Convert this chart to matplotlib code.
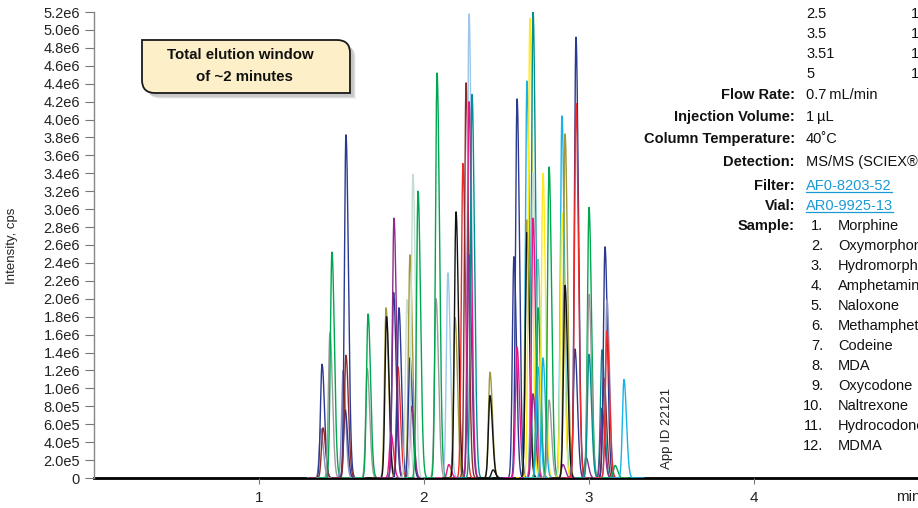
import numpy as np
import matplotlib
matplotlib.use('Agg')
import matplotlib.pyplot as plt
from matplotlib.patches import PathPatch
from matplotlib.path import Path
from matplotlib.lines import Line2D
from matplotlib.transforms import Affine2D
from matplotlib.ticker import FuncFormatter, MultipleLocator

plt.rcParams['font.family'] = ['Liberation Sans', 'DejaVu Sans']
COND = ['Liberation Sans Narrow', 'Liberation Sans', 'DejaVu Sans']

# Peak table: retention time (min), height (cps), trace colour
NAVY, GREEN, GRAY, PALE = '#2B3990', '#00A650', '#9B9B9B', '#C5DDD0'
BROWN, RED, PINK, PURPLE = '#8C2D2D', '#EE2A2A', '#E8168B', '#8E2C8E'
OLIVE, BLACK, LBLUE, CYAN = '#A09A3C', '#111111', '#9CC7EA', '#17B3E8'
YELLOW, TEAL, PTEAL, SLATE = '#FFEA1A', '#00918E', '#6FC7B8', '#8A8FC4'

peak_rt = [1.375, 1.382, 1.388, 1.430, 1.442, 1.510, 1.522, 1.527, 1.527,
           1.656, 1.661, 1.770, 1.773, 1.800, 1.816, 1.818, 1.842, 1.848,
           1.897, 1.915, 1.915, 1.925, 1.933, 1.964, 2.073, 2.079, 2.145,
           2.150, 2.188, 2.194, 2.236, 2.255, 2.273, 2.273, 2.273, 2.291,
           2.400, 2.400, 2.418, 2.545, 2.564, 2.564, 2.624, 2.624, 2.624,
           2.642, 2.661, 2.661, 2.661, 2.661, 2.691, 2.691, 2.691, 2.721,
           2.721, 2.758, 2.758, 2.836, 2.836, 2.842, 2.855, 2.855, 2.915,
           2.921, 2.921, 2.982, 3.000, 3.000, 3.000, 3.079, 3.079, 3.091,
           3.097, 3.109, 3.109, 3.158, 3.212]
peak_height = [0.55e6, 1.27e6, 0.56e6, 1.62e6, 2.52e6, 1.20e6, 0.76e6, 3.83e6, 1.37e6,
               1.22e6, 1.83e6, 1.90e6, 1.80e6, 0.50e6, 2.07e6, 2.90e6, 1.24e6, 1.90e6,
               1.99e6, 2.49e6, 1.34e6, 0.80e6, 3.39e6, 3.20e6, 2.00e6, 4.52e6, 2.29e6,
               0.15e6, 1.79e6, 2.97e6, 3.51e6, 4.41e6, 5.18e6, 4.20e6, 2.49e6, 4.28e6,
               1.18e6, 0.92e6, 0.09e6, 2.47e6, 4.23e6, 1.46e6, 4.43e6, 2.88e6, 2.74e6,
               5.13e6, 5.21e6, 3.41e6, 2.90e6, 0.94e6, 2.44e6, 1.90e6, 1.24e6, 3.40e6,
               1.34e6, 3.47e6, 0.87e6, 4.04e6, 2.96e6, 0.15e6, 3.84e6, 2.15e6, 1.44e6,
               4.92e6, 4.18e6, 0.23e6, 3.02e6, 2.05e6, 1.38e6, 1.43e6, 0.78e6, 1.11e6,
               2.58e6, 1.99e6, 1.64e6, 0.14e6, 1.10e6]
peak_color = [SLATE, NAVY, BROWN, GRAY, GREEN, SLATE, NAVY, NAVY, BROWN,
              GRAY, GREEN, OLIVE, BLACK, PINK, NAVY, PURPLE, RED, NAVY,
              PALE, OLIVE, NAVY, PURPLE, PALE, GREEN, GRAY, GREEN, LBLUE,
              PINK, OLIVE, BLACK, RED, BROWN, LBLUE, PINK, PURPLE, TEAL,
              OLIVE, BLACK, BLACK, NAVY, NAVY, PINK, CYAN, OLIVE, BLACK,
              YELLOW, TEAL, PALE, PINK, PURPLE, PTEAL, GREEN, CYAN, YELLOW,
              CYAN, GREEN, GRAY, CYAN, YELLOW, PURPLE, OLIVE, BLACK, NAVY,
              NAVY, RED, PURPLE, GREEN, GRAY, TEAL, TEAL, PURPLE, BROWN,
              NAVY, SLATE, RED, GREEN, CYAN]

y_max = 5.2e6
x_ticks = [1, 2, 3, 4]

gradient_time = ['2.5', '3.5', '3.51', '5']
gradient_b = ['100', '10', '10', '10']
cond_labels = ['Flow Rate:', 'Injection Volume:', 'Column Temperature:', 'Detection:',
               'Filter:', 'Vial:', 'Sample:']
cond_values = ['0.7\u2009mL/min', '1\u2009\u00b5L', '40\u02daC', 'MS/MS (SCIEX\u00aeAPI 4000)',
               'AF0-8203-52', 'AR0-9925-13', '']
samples = ['Morphine', 'Oxymorphone', 'Hydromorphone', 'Amphetamine', 'Naloxone',
           'Methamphetamine', 'Codeine', 'MDA', 'Oxycodone', 'Naltrexone',
           'Hydrocodone', 'MDMA']

W, H = 918, 508
fig = plt.figure(figsize=(W / 100, H / 100), dpi=100)
ax = fig.add_axes([94 / W, 30 / H, (W - 94) / W, 466 / H])
# pixel coordinates with origin at top-left of the image
px = Affine2D().scale(1, -1).translate(0, H).scale(1 / W, 1 / H) + fig.transFigure

for rt, h, c in zip(peak_rt, peak_height, peak_color):
    t = np.linspace(rt - 0.08, rt + 0.12, 300)
    s = np.where(t < rt, 0.0095, 0.015)
    ax.plot(t, h * np.exp(-0.5 * ((t - rt) / s) ** 2), color=c, lw=1.0)

ax.set_xlim(0, (W - 94) / 165)
ax.set_ylim(0, y_max)
ax.set_xticks(x_ticks)
ax.set_xticklabels([str(v) for v in x_ticks])
ax.yaxis.set_major_locator(MultipleLocator(2e5))


def sci(v, pos):
    if v < 1:
        return '0'
    e = int(np.floor(np.log10(v) + 1e-9))
    return f'{v / 10 ** e:.1f}e{e}'


ax.yaxis.set_major_formatter(FuncFormatter(sci))
for s in ['top', 'right']:
    ax.spines[s].set_visible(False)
ax.spines['left'].set_color('#888888')
ax.spines['left'].set_linewidth(1.0)
ax.spines['bottom'].set_color('black')
ax.spines['bottom'].set_linewidth(2.0)
ax.spines['bottom'].set_zorder(0.5)
ax.tick_params(axis='y', direction='out', length=6.5, width=0.8, color='#777777',
               pad=3.5, labelsize=10.5, labelcolor='#222222')
ax.tick_params(axis='x', direction='out', length=4, width=0.8, color='#777777',
               pad=5, labelsize=11, labelcolor='#222222')

fig.text(12, 246, 'Intensity, cps', transform=px, rotation=90, ha='center', va='center',
         fontsize=9.5, color='#222222')
fig.text(896, 497, 'min', transform=px, ha='left', va='center', fontsize=11, color='#222222')
fig.text(667, 428, 'App ID 22121', transform=px, rotation=90, ha='center', va='center',
         fontsize=9.5, family=COND, color='#222222')

# callout box with two rounded corners and a soft shadow
x0, x1, y0, y1, r = 142, 350, 40, 93, 13
verts = [(x0, y0), (x1 - r, y0), (x1, y0), (x1, y0 + r), (x1, y1), (x0 + r, y1),
         (x0, y1), (x0, y1 - r), (x0, y0)]
codes = [Path.MOVETO, Path.LINETO, Path.CURVE3, Path.CURVE3, Path.LINETO, Path.LINETO,
         Path.CURVE3, Path.CURVE3, Path.CLOSEPOLY]
for k, a in [(6, 0.08), (5, 0.12), (4, 0.18)]:
    sv = [(vx + k, vy + k) for vx, vy in verts]
    fig.add_artist(PathPatch(Path(sv, codes), transform=px, facecolor='#606060',
                             edgecolor='none', alpha=a))
fig.add_artist(PathPatch(Path(verts, codes), transform=px, facecolor='#FDEFC8',
                         edgecolor='#1A1A1A', lw=1.3))
fig.text(240, 55, 'Total elution window', transform=px, ha='center', va='center',
         fontsize=10.8, fontweight='bold', family=COND, color='#111111')
fig.text(244, 77, 'of ~2 minutes', transform=px, ha='center', va='center',
         fontsize=10.8, fontweight='bold', family=COND, color='#111111')

# method conditions on the right
FS = 10.5
for i, (gt, gb) in enumerate(zip(gradient_time, gradient_b)):
    y = 14 + 20 * i
    fig.text(806, y, gt, transform=px, ha='left', va='center', fontsize=FS,
             family=COND, color='#111111')
    fig.text(911, y, gb, transform=px, ha='left', va='center', fontsize=FS,
             family=COND, color='#111111')

row_y = [95, 117, 139, 162, 186, 206, 226]
links = []
for lab, val, y in zip(cond_labels, cond_values, row_y):
    fig.text(795, y, lab, transform=px, ha='right', va='center', fontsize=FS,
             fontweight='bold', family=COND, color='#111111')
    if val.startswith('A'):
        links.append(fig.text(806, y, val, transform=px, ha='left', va='center',
                              fontsize=FS, family=COND, color='#1B9AD6'))
    else:
        fig.text(806, y, val, transform=px, ha='left', va='center', fontsize=FS,
                 family=COND, color='#111111')

for i, name in enumerate(samples):
    y = 226 + 20 * i
    fig.text(823, y, f'{i + 1}.', transform=px, ha='right', va='center', fontsize=FS,
             family=COND, color='#111111')
    fig.text(838, y, name, transform=px, ha='left', va='center', fontsize=FS,
             family=COND, color='#111111')

fig.canvas.draw()
rend = fig.canvas.get_renderer()
for t in links:
    bb = t.get_window_extent(rend).transformed(fig.transFigure.inverted())
    yline = bb.y0 + 1.5 / H
    fig.add_artist(Line2D([bb.x0, bb.x1], [yline, yline], transform=fig.transFigure,
                          color='#1B9AD6', lw=0.9))

fig.savefig('out.png', dpi=100)
